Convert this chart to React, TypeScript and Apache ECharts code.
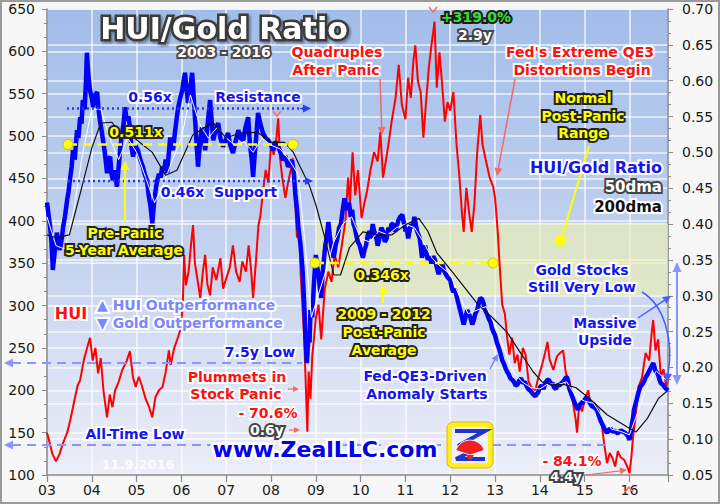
import React, { useEffect, useRef } from 'react';
import * as echarts from 'echarts';

// ---------- data (decimal year, value) ----------
const yearLabels = ['03','04','05','06','07','08','09','10','11','12','13','14','15','16'];

const huiSeries: [number, number][] = [
  [2003.00,150],[2003.05,140],[2003.12,125],[2003.20,116],[2003.28,125],[2003.36,138],[2003.45,150],[2003.52,165],
  [2003.60,185],[2003.68,205],[2003.74,212],[2003.82,235],[2003.90,251],[2003.96,262],[2004.02,235],[2004.08,250],
  [2004.14,220],[2004.20,238],[2004.26,200],[2004.34,168],[2004.40,195],[2004.46,180],[2004.52,200],[2004.60,210],
  [2004.68,224],[2004.78,235],[2004.85,246],[2004.92,215],[2004.98,204],[2005.05,216],[2005.12,205],[2005.20,190],
  [2005.28,180],[2005.35,168],[2005.42,192],[2005.50,200],[2005.58,204],[2005.65,222],[2005.72,247],[2005.76,230],
  [2005.84,250],[2005.92,262],[2005.98,272],[2006.03,300],[2006.06,360],[2006.10,324],[2006.16,340],[2006.22,375],
  [2006.26,395],[2006.30,350],[2006.36,330],[2006.42,309],[2006.48,340],[2006.53,360],[2006.58,325],[2006.64,312],
  [2006.70,345],[2006.78,330],[2006.87,356],[2006.93,320],[2007.00,332],[2007.08,345],[2007.15,371],[2007.22,340],
  [2007.30,328],[2007.36,352],[2007.44,340],[2007.50,371],[2007.55,345],[2007.60,309],[2007.66,350],[2007.72,395],
  [2007.76,405],[2007.82,434],[2007.88,460],[2007.94,445],[2008.00,490],[2008.06,478],[2008.12,498],[2008.16,521],
  [2008.20,475],[2008.25,451],[2008.32,427],[2008.38,445],[2008.44,460],[2008.48,474],[2008.54,420],[2008.58,380],
  [2008.62,400],[2008.66,340],[2008.70,300],[2008.74,262],[2008.78,200],[2008.81,151],[2008.84,222],[2008.88,190],
  [2008.92,240],[2008.96,262],[2009.00,285],[2009.06,301],[2009.12,260],[2009.20,320],[2009.28,340],[2009.35,328],
  [2009.42,360],[2009.50,345],[2009.58,371],[2009.66,400],[2009.72,451],[2009.76,419],[2009.82,481],[2009.88,430],
  [2009.94,460],[2010.02,403],[2010.08,420],[2010.14,434],[2010.22,460],[2010.30,481],[2010.38,470],[2010.44,505],
  [2010.50,451],[2010.56,470],[2010.62,490],[2010.70,520],[2010.78,545],[2010.85,584],[2010.92,537],[2011.00,520],
  [2011.06,569],[2011.12,545],[2011.18,590],[2011.22,607],[2011.28,564],[2011.34,552],[2011.40,498],[2011.46,540],
  [2011.52,580],[2011.58,607],[2011.65,635],[2011.70,557],[2011.76,599],[2011.82,560],[2011.88,517],[2011.94,540],
  [2012.00,530],[2012.07,552],[2012.14,490],[2012.20,455],[2012.26,410],[2012.30,387],[2012.36,439],[2012.42,410],
  [2012.48,387],[2012.54,420],[2012.60,480],[2012.67,525],[2012.72,490],[2012.80,470],[2012.88,451],[2012.96,440],
  [2013.00,427],[2013.06,387],[2013.10,350],[2013.16,301],[2013.22,290],[2013.27,262],[2013.32,242],[2013.38,262],
  [2013.44,232],[2013.50,242],[2013.55,222],[2013.62,250],[2013.68,242],[2013.75,210],[2013.82,203],[2013.90,200],
  [2013.96,214],[2014.05,230],[2014.12,245],[2014.17,257],[2014.22,236],[2014.30,224],[2014.38,240],[2014.45,244],
  [2014.52,247],[2014.58,220],[2014.66,212],[2014.72,192],[2014.80,165],[2014.83,150],[2014.88,185],[2014.94,175],
  [2015.02,192],[2015.08,200],[2015.14,180],[2015.22,185],[2015.30,173],[2015.38,160],[2015.44,135],[2015.50,114],
  [2015.56,126],[2015.62,120],[2015.68,110],[2015.74,128],[2015.80,121],[2015.88,118],[2015.95,110],[2016.00,102],
  [2016.04,120],[2016.08,145],[2016.14,170],[2016.20,204],[2016.28,215],[2016.36,244],[2016.44,235],[2016.50,270],
  [2016.53,283],[2016.58,247],[2016.64,260],[2016.70,216],[2016.76,225],[2016.82,205],[2016.86,212]
];

const ratioSeries: [number, number][] = [
  [2003.00,0.43],[2003.03,0.415],[2003.07,0.396],[2003.10,0.375],[2003.13,0.336],[2003.17,0.36],[2003.22,0.388],[2003.26,0.37],
  [2003.29,0.364],[2003.33,0.38],[2003.36,0.396],[2003.40,0.41],[2003.45,0.434],[2003.48,0.445],[2003.51,0.461],[2003.55,0.48],
  [2003.58,0.503],[2003.62,0.49],[2003.67,0.531],[2003.70,0.52],[2003.74,0.549],[2003.77,0.54],[2003.80,0.573],[2003.84,0.56],
  [2003.87,0.60],[2003.89,0.639],[2003.92,0.61],[2003.96,0.587],[2004.00,0.575],[2004.03,0.563],[2004.07,0.58],[2004.12,0.584],
  [2004.15,0.56],[2004.18,0.545],[2004.22,0.53],[2004.25,0.517],[2004.29,0.50],[2004.34,0.471],[2004.37,0.49],[2004.41,0.494],
  [2004.44,0.47],[2004.47,0.461],[2004.52,0.475],[2004.56,0.452],[2004.60,0.48],[2004.63,0.503],[2004.67,0.525],[2004.71,0.54],
  [2004.74,0.563],[2004.78,0.545],[2004.82,0.55],[2004.85,0.535],[2004.88,0.51],[2004.92,0.494],[2004.97,0.51],[2005.03,0.503],
  [2005.08,0.49],[2005.14,0.48],[2005.18,0.47],[2005.23,0.461],[2005.27,0.44],[2005.31,0.425],[2005.35,0.401],[2005.39,0.43],
  [2005.43,0.45],[2005.46,0.461],[2005.50,0.47],[2005.54,0.465],[2005.57,0.48],[2005.61,0.475],[2005.65,0.49],[2005.68,0.471],
  [2005.72,0.50],[2005.75,0.521],[2005.78,0.51],[2005.81,0.503],[2005.86,0.53],[2005.90,0.55],[2005.93,0.563],[2005.97,0.575],
  [2006.02,0.587],[2006.05,0.60],[2006.08,0.611],[2006.11,0.59],[2006.15,0.569],[2006.20,0.59],[2006.24,0.611],[2006.28,0.57],
  [2006.31,0.541],[2006.34,0.51],[2006.37,0.48],[2006.41,0.51],[2006.46,0.535],[2006.50,0.52],[2006.53,0.503],[2006.57,0.53],
  [2006.61,0.555],[2006.64,0.573],[2006.68,0.54],[2006.71,0.517],[2006.76,0.53],[2006.82,0.541],[2006.87,0.52],[2006.93,0.508],
  [2006.98,0.515],[2007.04,0.527],[2007.09,0.51],[2007.15,0.499],[2007.21,0.515],[2007.27,0.531],[2007.32,0.52],[2007.38,0.517],
  [2007.43,0.535],[2007.49,0.549],[2007.53,0.51],[2007.57,0.49],[2007.60,0.466],[2007.64,0.50],[2007.68,0.53],[2007.71,0.555],
  [2007.76,0.54],[2007.82,0.527],[2007.88,0.52],[2007.94,0.517],[2008.00,0.51],[2008.05,0.503],[2008.10,0.515],[2008.16,0.508],
  [2008.21,0.50],[2008.27,0.489],[2008.32,0.495],[2008.38,0.48],[2008.43,0.485],[2008.47,0.489],[2008.51,0.47],[2008.54,0.443],
  [2008.58,0.42],[2008.61,0.396],[2008.66,0.37],[2008.70,0.34],[2008.74,0.29],[2008.77,0.24],[2008.80,0.206],[2008.84,0.25],
  [2008.86,0.235],[2008.88,0.28],[2008.92,0.27],[2008.96,0.32],[2009.00,0.357],[2009.03,0.34],[2009.06,0.33],[2009.09,0.31],
  [2009.12,0.297],[2009.15,0.33],[2009.18,0.35],[2009.21,0.37],[2009.24,0.38],[2009.28,0.403],[2009.31,0.385],[2009.34,0.37],
  [2009.37,0.36],[2009.40,0.353],[2009.44,0.37],[2009.48,0.38],[2009.52,0.395],[2009.56,0.40],[2009.60,0.42],[2009.64,0.436],
  [2009.67,0.425],[2009.70,0.42],[2009.74,0.43],[2009.78,0.41],[2009.81,0.42],[2009.84,0.40],[2009.87,0.395],[2009.90,0.385],
  [2009.94,0.375],[2009.98,0.37],[2010.02,0.36],[2010.05,0.353],[2010.09,0.365],[2010.12,0.37],[2010.16,0.385],[2010.20,0.39],
  [2010.23,0.38],[2010.27,0.40],[2010.30,0.39],[2010.34,0.385],[2010.38,0.37],[2010.42,0.38],[2010.46,0.395],[2010.50,0.39],
  [2010.54,0.375],[2010.58,0.38],[2010.62,0.395],[2010.65,0.389],[2010.69,0.40],[2010.72,0.40],[2010.76,0.39],[2010.80,0.395],
  [2010.84,0.405],[2010.88,0.41],[2010.93,0.413],[2010.97,0.40],[2011.00,0.39],[2011.03,0.395],[2011.06,0.38],[2011.09,0.39],
  [2011.12,0.40],[2011.16,0.395],[2011.20,0.41],[2011.23,0.40],[2011.26,0.39],[2011.29,0.385],[2011.32,0.38],[2011.35,0.365],
  [2011.37,0.353],[2011.41,0.365],[2011.44,0.37],[2011.47,0.36],[2011.50,0.35],[2011.54,0.355],[2011.58,0.345],[2011.62,0.355],
  [2011.66,0.35],[2011.70,0.34],[2011.74,0.33],[2011.78,0.34],[2011.82,0.345],[2011.86,0.335],[2011.90,0.33],[2011.95,0.325],
  [2012.00,0.322],[2012.04,0.31],[2012.07,0.305],[2012.10,0.31],[2012.14,0.30],[2012.18,0.29],[2012.22,0.28],[2012.26,0.27],
  [2012.30,0.26],[2012.34,0.27],[2012.38,0.28],[2012.41,0.275],[2012.45,0.27],[2012.49,0.26],[2012.52,0.265],[2012.56,0.275],
  [2012.60,0.28],[2012.64,0.29],[2012.67,0.297],[2012.71,0.295],[2012.74,0.29],[2012.78,0.28],[2012.82,0.275],[2012.86,0.268],
  [2012.90,0.263],[2012.93,0.255],[2012.96,0.25],[2013.00,0.245],[2013.04,0.235],[2013.08,0.228],[2013.12,0.22],[2013.16,0.21],
  [2013.20,0.205],[2013.24,0.198],[2013.27,0.194],[2013.31,0.19],[2013.34,0.185],[2013.38,0.183],[2013.42,0.18],[2013.46,0.175],
  [2013.50,0.176],[2013.54,0.182],[2013.58,0.185],[2013.62,0.178],[2013.66,0.18],[2013.70,0.175],[2013.74,0.17],[2013.78,0.168],
  [2013.82,0.165],[2013.86,0.162],[2013.90,0.16],[2013.93,0.163],[2013.96,0.165],[2014.00,0.172],[2014.04,0.175],[2014.08,0.17],
  [2014.12,0.178],[2014.16,0.182],[2014.20,0.183],[2014.24,0.177],[2014.28,0.178],[2014.32,0.172],[2014.36,0.17],[2014.40,0.176],
  [2014.44,0.175],[2014.48,0.178],[2014.52,0.18],[2014.56,0.184],[2014.60,0.187],[2014.63,0.178],[2014.66,0.17],[2014.69,0.165],
  [2014.72,0.16],[2014.75,0.155],[2014.78,0.15],[2014.82,0.145],[2014.85,0.141],[2014.88,0.146],[2014.92,0.15],[2014.96,0.152],
  [2015.00,0.155],[2015.05,0.159],[2015.08,0.154],[2015.12,0.15],[2015.16,0.146],[2015.20,0.145],[2015.24,0.143],[2015.28,0.14],
  [2015.32,0.132],[2015.36,0.125],[2015.40,0.12],[2015.44,0.115],[2015.47,0.111],[2015.50,0.109],[2015.54,0.113],[2015.58,0.115],
  [2015.62,0.11],[2015.66,0.112],[2015.70,0.11],[2015.74,0.108],[2015.78,0.111],[2015.82,0.112],[2015.86,0.11],[2015.90,0.109],
  [2015.93,0.107],[2015.96,0.105],[2016.00,0.099],[2016.03,0.11],[2016.05,0.12],[2016.08,0.13],[2016.10,0.141],[2016.13,0.148],
  [2016.16,0.155],[2016.20,0.165],[2016.24,0.173],[2016.28,0.176],[2016.32,0.18],[2016.36,0.186],[2016.40,0.19],[2016.44,0.195],
  [2016.48,0.20],[2016.53,0.206],[2016.56,0.20],[2016.58,0.195],[2016.61,0.193],[2016.64,0.19],[2016.67,0.183],[2016.70,0.178],
  [2016.73,0.177],[2016.76,0.175],[2016.79,0.172],[2016.82,0.17],[2016.86,0.168]
];

const dma50Series: [number, number][] = [
  [2003.0,0.41],[2003.2,0.37],[2003.4,0.365],[2003.6,0.42],[2003.8,0.50],[2004.0,0.56],[2004.2,0.56],[2004.4,0.52],
  [2004.6,0.49],[2004.8,0.52],[2005.0,0.50],[2005.2,0.465],[2005.4,0.43],[2005.6,0.455],[2005.8,0.49],[2006.0,0.52],
  [2006.2,0.58],[2006.4,0.54],[2006.6,0.52],[2006.8,0.535],[2007.0,0.52],[2007.2,0.51],[2007.4,0.515],[2007.6,0.50],
  [2007.8,0.52],[2008.0,0.51],[2008.2,0.505],[2008.4,0.49],[2008.6,0.47],[2008.75,0.38],[2008.9,0.27],[2009.05,0.30],
  [2009.2,0.33],[2009.4,0.375],[2009.6,0.40],[2009.8,0.41],[2010.0,0.38],[2010.2,0.375],[2010.4,0.39],[2010.6,0.385],
  [2010.8,0.395],[2011.0,0.40],[2011.2,0.395],[2011.4,0.375],[2011.6,0.352],[2011.8,0.34],[2012.0,0.33],[2012.2,0.30],
  [2012.4,0.275],[2012.6,0.28],[2012.8,0.285],[2013.0,0.26],[2013.2,0.225],[2013.4,0.195],[2013.6,0.18],[2013.8,0.172],
  [2014.0,0.17],[2014.2,0.178],[2014.4,0.176],[2014.6,0.18],[2014.8,0.16],[2015.0,0.153],[2015.2,0.15],[2015.4,0.13],
  [2015.6,0.114],[2015.8,0.111],[2016.0,0.106],[2016.2,0.14],[2016.4,0.175],[2016.6,0.195],[2016.86,0.18]
];

const dma200Series: [number, number][] = [
  [2003.00,0.385],[2003.20,0.381],[2003.50,0.385],[2003.75,0.445],[2004.00,0.506],[2004.20,0.541],[2004.45,0.542],
  [2004.70,0.52],[2004.95,0.52],[2005.35,0.50],[2005.65,0.468],[2005.90,0.475],[2006.25,0.524],[2006.70,0.542],
  [2007.00,0.52],[2007.30,0.527],[2007.70,0.528],[2008.00,0.514],[2008.30,0.514],[2008.50,0.50],[2008.65,0.48],
  [2008.85,0.455],[2009.00,0.427],[2009.20,0.381],[2009.40,0.329],[2009.55,0.329],[2009.75,0.367],[2010.05,0.389],
  [2010.40,0.385],[2010.70,0.385],[2011.00,0.399],[2011.30,0.408],[2011.50,0.39],[2011.70,0.36],[2012.05,0.333],
  [2012.63,0.287],[2012.95,0.269],[2013.27,0.249],[2013.55,0.222],[2013.85,0.194],[2014.05,0.18],[2014.30,0.176],
  [2014.55,0.176],[2014.80,0.172],[2015.10,0.157],[2015.50,0.134],[2015.95,0.117],[2016.15,0.11],[2016.40,0.129],
  [2016.65,0.157],[2016.86,0.168]
];

const normalRange = [0.30, 0.40];
const normalRangeStart = 2009.0;
const xMin = 2003;
const xMax = 2016.86;

// ---------- helpers for annotations ----------
const FONT = '"DejaVu Sans", Verdana, sans-serif';

function txt(text: string, x: number, y: number, fill: string, stroke: string, size = 14, extra: any = {}) {
  return {
    type: 'text', x, y, z: 120, silent: true,
    style: {
      text, fill, stroke, lineWidth: 4, strokeFirst: true, lineJoin: 'round',
      font: `bold ${size}px ${FONT}`, align: 'center', verticalAlign: 'middle', ...extra,
    },
  };
}

function arrow(x1: number, y1: number, x2: number, y2: number, color: string, w = 2, head = 7, dash?: number[], z = 110) {
  const a = Math.atan2(y2 - y1, x2 - x1);
  const bx = x2 - head * Math.cos(a), by = y2 - head * Math.sin(a);
  const hx = head * 0.5 * Math.sin(a), hy = head * 0.5 * Math.cos(a);
  return [
    { type: 'line', z, silent: true, shape: { x1, y1, x2: bx, y2: by }, style: { stroke: color, lineWidth: w, lineDash: dash } },
    { type: 'polygon', z, silent: true, shape: { points: [[x2, y2], [bx + hx, by - hy], [bx - hx, by + hy]] }, style: { fill: color } },
  ];
}

function hline(x1: number, x2: number, y: number, color: string, w: number, dash: number[], z = 60) {
  return { type: 'line', z, silent: true, shape: { x1, y1: y, x2, y2: y }, style: { stroke: color, lineWidth: w, lineDash: dash } };
}

function dot(x: number, y: number, r: number, color: string) {
  return { type: 'circle', z: 61, silent: true, shape: { cx: x, cy: y, r }, style: { fill: color, stroke: '#c8b400', lineWidth: 0.8 } };
}

function chevron(x: number, y: number, up: boolean) {
  const d = up ? -1 : 1;
  return { type: 'polyline', z: 110, silent: true, shape: { points: [[x - 4, y - 3 * d], [x, y + 2 * d], [x + 4, y - 3 * d]] }, style: { stroke: '#ff6a6a', lineWidth: 1.5, fill: null } };
}

function buildGraphics() {
  const RED = '#ff1111', BLUE = '#1515ee', YEL = '#ffff00', LBLUE = '#7b86ff', PINK = '#f26a6a';
  const g: any[] = [];
  // outer frame
  g.push({ type: 'rect', z: 200, silent: true, shape: { x: 1, y: 1, width: 718, height: 502 }, style: { fill: null, stroke: '#9a9a9a', lineWidth: 2 } });

  // reference lines
  g.push(hline(67, 304, 108.5, '#2a3cff', 2.5, [2, 3]));
  g.push(...arrow(300, 108.5, 311, 108.5, '#2a3cff', 1, 8));
  g.push(hline(68, 307, 181, '#2a3cff', 2.5, [2, 3]));
  g.push(...arrow(303, 181, 313, 181, '#2a3cff', 1, 8));
  g.push(hline(68, 293, 144.5, YEL, 2.5, [9, 6]));
  g.push(dot(68, 144.5, 5, YEL), dot(293, 144.5, 5, YEL));
  g.push(hline(315, 493, 263, YEL, 2.5, [9, 6]));
  g.push(dot(315, 263, 5, YEL), dot(493, 263, 5, YEL));
  g.push(hline(12, 302, 363, '#8a96ff', 2, [9, 6], 30));
  g.push(...arrow(16, 363, 4, 363, '#8a96ff', 1, 9, undefined, 30));
  g.push(hline(12, 610, 445, '#8a96ff', 2, [9, 6], 30));
  g.push(...arrow(16, 445, 4, 445, '#8a96ff', 1, 9, undefined, 30));

  // title
  g.push(txt('HUI/Gold Ratio', 224, 28, '#ffffff', '#3a3a3a', 30, { lineWidth: 5, textShadowColor: 'rgba(0,0,0,0.35)', textShadowOffsetX: 2, textShadowOffsetY: 2, textShadowBlur: 2 }));
  g.push(txt('2003 - 2016', 224, 52, '#ffffff', '#4a4a4a', 14));

  // top annotations
  g.push(txt('Quadruples', 337, 52, RED, '#ffffff', 14));
  g.push(txt('After Panic', 336, 70, RED, '#ffffff', 14));
  g.push(...arrow(380, 79, 382, 135, PINK, 1.5, 8));
  g.push(txt('+319.0%', 476, 17, '#33e033', '#1a1a1a', 14));
  g.push(txt('2.9y', 475, 35, '#ffffff', '#444444', 14));
  g.push(chevron(433, 10, false));
  g.push(chevron(277, 114, false));
  g.push(txt("Fed's Extreme QE3", 580, 52, RED, '#ffffff', 14));
  g.push(txt('Distortions Begin', 582, 70, RED, '#ffffff', 14));
  g.push(...arrow(515, 79, 497, 176, PINK, 1.5, 8));
  g.push(txt('Normal', 583, 98, YEL, '#222222', 14));
  g.push(txt('Post-Panic', 583, 116, YEL, '#222222', 14));
  g.push(txt('Range', 583, 133, YEL, '#222222', 14));
  g.push({ type: 'line', z: 100, silent: true, shape: { x1: 589, y1: 146, x2: 561, y2: 240 }, style: { stroke: YEL, lineWidth: 2 } });
  g.push({ type: 'circle', z: 101, silent: true, shape: { cx: 560, cy: 241, r: 5.5 }, style: { fill: YEL } });
  g.push(txt('HUI/Gold Ratio', 662, 167, BLUE, '#ffffff', 16, { align: 'right' }));
  g.push(txt('50dma', 662, 187, '#ffffff', '#444444', 15, { align: 'right' }));
  g.push(txt('200dma', 662, 207, '#111111', '#ffffff', 15, { align: 'right' }));

  // left annotations
  g.push(txt('0.56x', 150, 97, BLUE, '#ffffff', 14));
  g.push(txt('Resistance', 258, 97, BLUE, '#ffffff', 14));
  g.push(txt('0.511x', 136, 132, YEL, '#222222', 14));
  g.push(txt('0.46x  Support', 219, 192, BLUE, '#ffffff', 14));
  g.push(txt('Pre-Panic', 125, 233, YEL, '#222222', 14));
  g.push(txt('5-Year Average', 124, 250, YEL, '#222222', 14));
  g.push(...arrow(125, 222, 125, 161, YEL, 2, 9));
  g.push(txt('HUI', 71, 313, RED, '#ffffff', 16));
  g.push(txt('\u25B2 HUI Outperformance', 97, 305, LBLUE, '#ffffff', 14, { align: 'left' }));
  g.push(txt('\u25BC Gold Outperformance', 97, 323, LBLUE, '#ffffff', 14, { align: 'left' }));
  g.push(txt('7.5y Low', 260, 352, BLUE, '#ffffff', 14));
  g.push(txt('Plummets in', 237, 377, RED, '#ffffff', 14));
  g.push(txt('Stock Panic', 236, 394, RED, '#ffffff', 14));
  g.push(...arrow(288, 389, 299, 389, PINK, 1.2, 6));
  g.push(txt('- 70.6%', 268, 413, RED, '#ffffff', 14));
  g.push(txt('0.6y', 267, 430, '#ffffff', '#444444', 14));
  g.push(...arrow(289, 430, 300, 430, PINK, 1.2, 6));
  g.push(txt('All-Time Low', 135, 434, BLUE, '#ffffff', 14));
  g.push(txt('www.ZealLLC.com', 325, 449, '#0000ee', '#ffffff', 22, { lineWidth: 5 }));
  g.push(txt('11.9.2016', 138, 464, 'rgba(255,255,255,0.85)', 'rgba(0,0,0,0)', 13, { lineWidth: 0 }));

  // middle annotations
  g.push(txt('0.346x', 382, 275, YEL, '#222222', 14));
  g.push(...arrow(383, 303, 383, 285, YEL, 2, 8));
  g.push(txt('2009 - 2012', 384, 314, YEL, '#222222', 14));
  g.push(txt('Post-Panic', 384, 332, YEL, '#222222', 14));
  g.push(txt('Average', 384, 350, YEL, '#222222', 14));
  g.push(txt('Fed-QE3-Driven', 425, 376, BLUE, '#ffffff', 14));
  g.push(txt('Anomaly Starts', 427, 394, BLUE, '#ffffff', 14));
  g.push(...arrow(490, 369, 498, 354, LBLUE, 1.5, 7));

  // right annotations
  g.push(txt('Gold Stocks', 582, 270, BLUE, '#ffffff', 14));
  g.push(txt('Still Very Low', 582, 287, BLUE, '#ffffff', 14));
  g.push(txt('Massive', 605, 323, BLUE, '#ffffff', 14));
  g.push(txt('Upside', 605, 340, BLUE, '#ffffff', 14));
  g.push(...arrow(638, 318, 671, 296, '#4a5cff', 1.5, 8));
  g.push({ type: 'bezierCurve', z: 110, silent: true, shape: { x1: 642, y1: 292, cpx1: 664, cpy1: 305, cpx2: 674, cpy2: 340, x2: 668, y2: 374 }, style: { stroke: '#4a5cff', lineWidth: 1.5, fill: null } });
  g.push({ type: 'polygon', z: 110, silent: true, shape: { points: [[667, 383], [663, 373], [672, 374]] }, style: { fill: '#4a5cff' } });
  g.push({ type: 'line', z: 110, silent: true, shape: { x1: 677, y1: 270, x2: 677, y2: 377 }, style: { stroke: '#8a96ff', lineWidth: 2 } });
  g.push({ type: 'polygon', z: 110, silent: true, shape: { points: [[677, 262], [672.5, 272], [681.5, 272]] }, style: { fill: '#8a96ff' } });
  g.push({ type: 'polygon', z: 110, silent: true, shape: { points: [[677, 385], [672.5, 375], [681.5, 375]] }, style: { fill: '#8a96ff' } });
  g.push(txt('- 84.1%', 572, 461, RED, '#ffffff', 14));
  g.push(txt('4.4y', 566, 476, '#ffffff', '#444444', 13));
  g.push(...arrow(586, 475, 627, 470, PINK, 1.2, 7));
  g.push(chevron(629, 489, true));

  // logo
  g.push({ type: 'rect', z: 115, silent: true, shape: { x: 447, y: 422, width: 46, height: 46, r: 6 }, style: { fill: '#ffee22', stroke: '#d8b800', lineWidth: 1 } });
  g.push({ type: 'rect', z: 116, silent: true, shape: { x: 452, y: 427, width: 36, height: 36, r: 2 }, style: { fill: '#eef0ff' } });
  g.push({ type: 'polyline', z: 117, silent: true, shape: { points: [[455, 431], [485, 431], [458, 446]] }, style: { stroke: '#2233cc', lineWidth: 4, fill: null } });
  g.push({ type: 'polyline', z: 117, silent: true, shape: { points: [[482, 446], [456, 459], [485, 459]] }, style: { stroke: '#2233cc', lineWidth: 4, fill: null } });
  g.push({ type: 'sector', z: 118, silent: true, shape: { cx: 470, cy: 455, r: 15, r0: 0, startAngle: Math.PI * 1.1, endAngle: Math.PI * 1.9, clockwise: true }, style: { fill: '#ee2222', stroke: '#ffffff', lineWidth: 0.8 } });
  g.push({ type: 'polygon', z: 118, silent: true, shape: { points: [[466, 455], [474, 455], [470, 461]] }, style: { fill: '#ee2222' } });
  return g;
}

export default function App() {
  const ref = useRef<HTMLDivElement>(null);
  useEffect(() => {
    document.body.style.margin = '0';
    const chart = echarts.init(ref.current!, null, { renderer: 'svg' });
    const axisLineStyle = { color: '#8a8a8a', width: 1.5 };
    const splitStyle = { color: 'rgba(255,255,255,0.8)', width: 1.5 };
    const labelStyle = { color: '#1a1a1a', fontSize: 14, fontFamily: FONT };
    const option: any = {
      animation: false,
      backgroundColor: '#f7f7f7',
      grid: {
        left: 47, right: 52, top: 9, bottom: 29, show: true,
        borderColor: '#9a9a9a', borderWidth: 1,
        backgroundColor: new echarts.graphic.LinearGradient(0, 0, 0, 1, [
          { offset: 0, color: '#a2bdea' },
          { offset: 0.5, color: '#c2d1ef' },
          { offset: 1, color: '#eceef8' },
        ]),
      },
      xAxis: {
        type: 'value', min: xMin, max: xMax, interval: 1,
        axisLine: { show: true, lineStyle: axisLineStyle },
        axisTick: { show: true, length: 7, lineStyle: { color: '#8a8a8a', width: 1.2 } },
        axisLabel: {
          ...labelStyle, margin: 8,
          formatter: (v: number) => {
            const r = Math.round(v);
            return Math.abs(v - r) < 1e-6 ? (yearLabels[r - xMin] ?? '') : '';
          },
        },
        splitLine: { show: true, lineStyle: splitStyle },
      },
      yAxis: [
        {
          type: 'value', min: 100, max: 650, interval: 50, position: 'left',
          axisLine: { show: true, lineStyle: axisLineStyle },
          axisTick: { show: true, length: 5, lineStyle: { color: '#8a8a8a' } },
          minorTick: { show: true, splitNumber: 3, length: 3, lineStyle: { color: '#8a8a8a' } },
          axisLabel: { ...labelStyle, margin: 12 },
          splitLine: { show: true, lineStyle: splitStyle },
        },
        {
          type: 'value', min: 0.05, max: 0.70, interval: 0.05, position: 'right',
          axisLine: { show: true, lineStyle: axisLineStyle },
          axisTick: { show: true, length: 5, lineStyle: { color: '#8a8a8a' } },
          minorTick: { show: true, splitNumber: 3, length: 3, lineStyle: { color: '#8a8a8a' } },
          axisLabel: { ...labelStyle, margin: 14, formatter: (v: number) => v.toFixed(2) },
          splitLine: { show: true, lineStyle: splitStyle },
        },
      ],
      series: [
        {
          type: 'line', name: 'range', yAxisIndex: 1, data: [], z: 1, silent: true,
          markArea: {
            silent: true,
            itemStyle: { color: 'rgba(236,242,172,0.6)' },
            data: [[{ xAxis: normalRangeStart, yAxis: normalRange[0] }, { xAxis: xMax, yAxis: normalRange[1] }]],
          },
        },
        { type: 'line', name: 'HUI', yAxisIndex: 0, data: huiSeries, symbol: 'none', z: 3, lineStyle: { color: '#ff0000', width: 2 } },
        { type: 'line', name: 'HUI/Gold Ratio', yAxisIndex: 1, data: ratioSeries, symbol: 'none', z: 4, lineStyle: { color: '#0000ff', width: 4.5 } },
        { type: 'line', name: '50dma', yAxisIndex: 1, data: dma50Series, symbol: 'none', z: 5, lineStyle: { color: '#ffffff', width: 1 } },
        { type: 'line', name: '200dma', yAxisIndex: 1, data: dma200Series, symbol: 'none', z: 6, lineStyle: { color: '#111111', width: 1.2 } },
      ],
      graphic: buildGraphics(),
    };
    chart.setOption(option);
    return () => chart.dispose();
  }, []);
  return <div ref={ref} style={{ position: 'fixed', left: 0, top: 0, width: 720, height: 504 }} />;
}
